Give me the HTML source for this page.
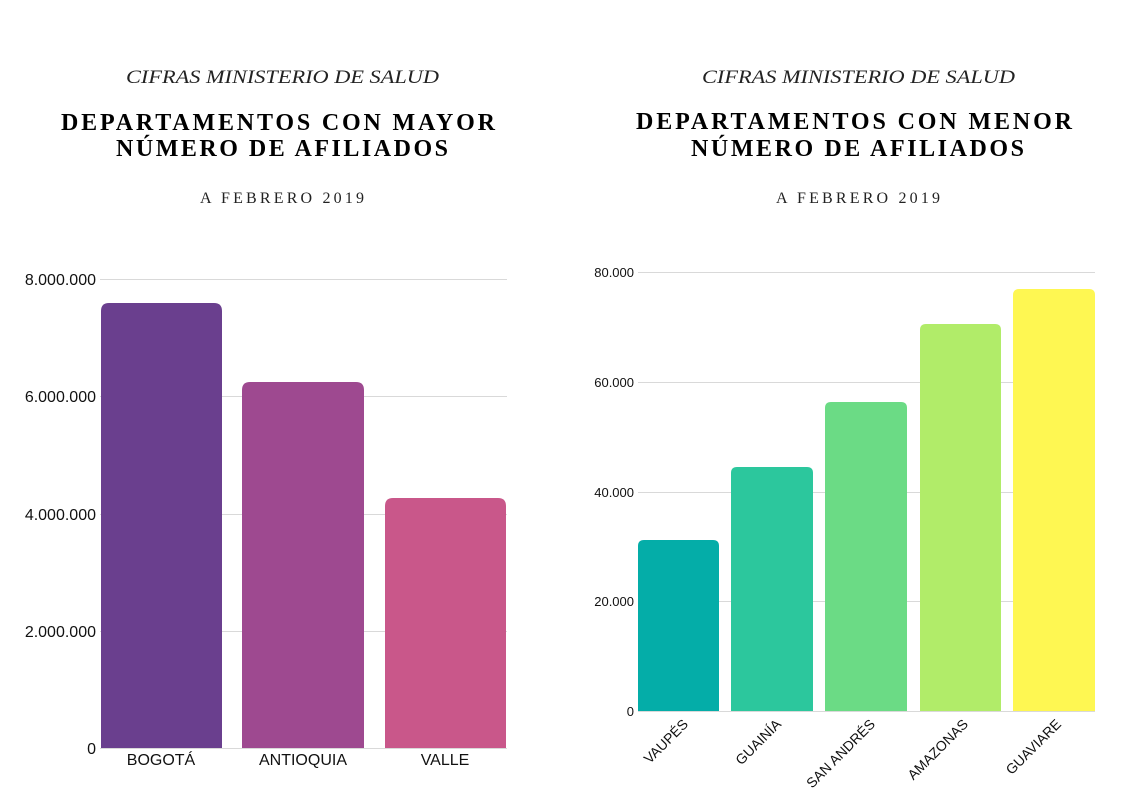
<!DOCTYPE html>
<html><head><meta charset="utf-8"><style>
html,body{margin:0;padding:0;background:#fff;}
svg{display:block;}
.it{font-family:"Liberation Serif",serif;font-style:italic;font-size:19px;fill:#222;}
.t{font-family:"Liberation Serif",serif;font-weight:bold;font-size:24px;fill:#000;}
.s{font-family:"Liberation Serif",serif;font-size:16px;fill:#222;}
.ax{font-family:"Liberation Sans",sans-serif;fill:#111;}
</style></head><body>
<svg width="1123" height="794" viewBox="0 0 1123 794" xmlns="http://www.w3.org/2000/svg">
<rect width="1123" height="794" fill="#fff"/>
<text class="it" x="126" y="83" textLength="313" lengthAdjust="spacingAndGlyphs">CIFRAS MINISTERIO DE SALUD</text>
<text class="t" x="61" y="130" textLength="434" lengthAdjust="spacing">DEPARTAMENTOS CON MAYOR</text>
<text class="t" x="116" y="156" textLength="332" lengthAdjust="spacing">NÚMERO DE AFILIADOS</text>
<text class="s" x="200" y="203" textLength="164" lengthAdjust="spacing">A FEBRERO 2019</text>
<text class="it" x="702" y="83" textLength="313" lengthAdjust="spacingAndGlyphs">CIFRAS MINISTERIO DE SALUD</text>
<text class="t" x="636" y="129" textLength="436" lengthAdjust="spacing">DEPARTAMENTOS CON MENOR</text>
<text class="t" x="691" y="156" textLength="333" lengthAdjust="spacing">NÚMERO DE AFILIADOS</text>
<text class="s" x="776" y="203" textLength="164" lengthAdjust="spacing">A FEBRERO 2019</text>

<g stroke="#d9d9d9" stroke-width="1">
<line x1="100" y1="279.5" x2="507" y2="279.5"/>
<line x1="100" y1="396.5" x2="507" y2="396.5"/>
<line x1="100" y1="514.5" x2="507" y2="514.5"/>
<line x1="100" y1="631.5" x2="507" y2="631.5"/>
<line x1="100" y1="748.5" x2="507" y2="748.5"/>
</g>
<g class="ax" font-size="16" text-anchor="end">
<text x="96" y="285">8.000.000</text>
<text x="96" y="402">6.000.000</text>
<text x="96" y="520">4.000.000</text>
<text x="96" y="637">2.000.000</text>
<text x="96" y="754">0</text>
</g>
<path d="M101 748 V311 Q101 303 109 303 H214 Q222 303 222 311 V748 Z" fill="#6a3f8e"/>
<path d="M242 748 V390 Q242 382 250 382 H356 Q364 382 364 390 V748 Z" fill="#9e4990"/>
<path d="M385 748 V506 Q385 498 393 498 H498 Q506 498 506 506 V748 Z" fill="#c9578a"/>
<g class="ax" font-size="16" text-anchor="middle">
<text x="161" y="765">BOGOTÁ</text>
<text x="303" y="765">ANTIOQUIA</text>
<text x="445" y="765">VALLE</text>
</g>

<g stroke="#d9d9d9" stroke-width="1">
<line x1="638" y1="272.5" x2="1095" y2="272.5"/>
<line x1="638" y1="382.5" x2="1095" y2="382.5"/>
<line x1="638" y1="492.5" x2="1095" y2="492.5"/>
<line x1="638" y1="601.5" x2="1095" y2="601.5"/>
<line x1="638" y1="711.5" x2="1095" y2="711.5"/>
</g>
<g class="ax" font-size="13" text-anchor="end">
<text x="634" y="277">80.000</text>
<text x="634" y="387">60.000</text>
<text x="634" y="497">40.000</text>
<text x="634" y="606">20.000</text>
<text x="634" y="716">0</text>
</g>
<path d="M638 711 V546 Q638 540 644 540 H713 Q719 540 719 546 V711 Z" fill="#04ada8"/>
<path d="M731 711 V473 Q731 467 737 467 H807 Q813 467 813 473 V711 Z" fill="#2cc79d"/>
<path d="M825 711 V408 Q825 402 831 402 H901 Q907 402 907 408 V711 Z" fill="#6bdb85"/>
<path d="M920 711 V330 Q920 324 926 324 H995 Q1001 324 1001 330 V711 Z" fill="#b1ec69"/>
<path d="M1013 711 V295 Q1013 289 1019 289 H1089 Q1095 289 1095 295 V711 Z" fill="#fef752"/>
<g class="ax" font-size="14" text-anchor="end">
<text transform="translate(689,725) rotate(-45)">VAUPÉS</text>
<text transform="translate(782,725) rotate(-45)">GUAINÍA</text>
<text transform="translate(876,725) rotate(-45)">SAN ANDRÉS</text>
<text transform="translate(969,725) rotate(-45)">AMAZONAS</text>
<text transform="translate(1062,725) rotate(-45)">GUAVIARE</text>
</g>
</svg>
</body></html>
